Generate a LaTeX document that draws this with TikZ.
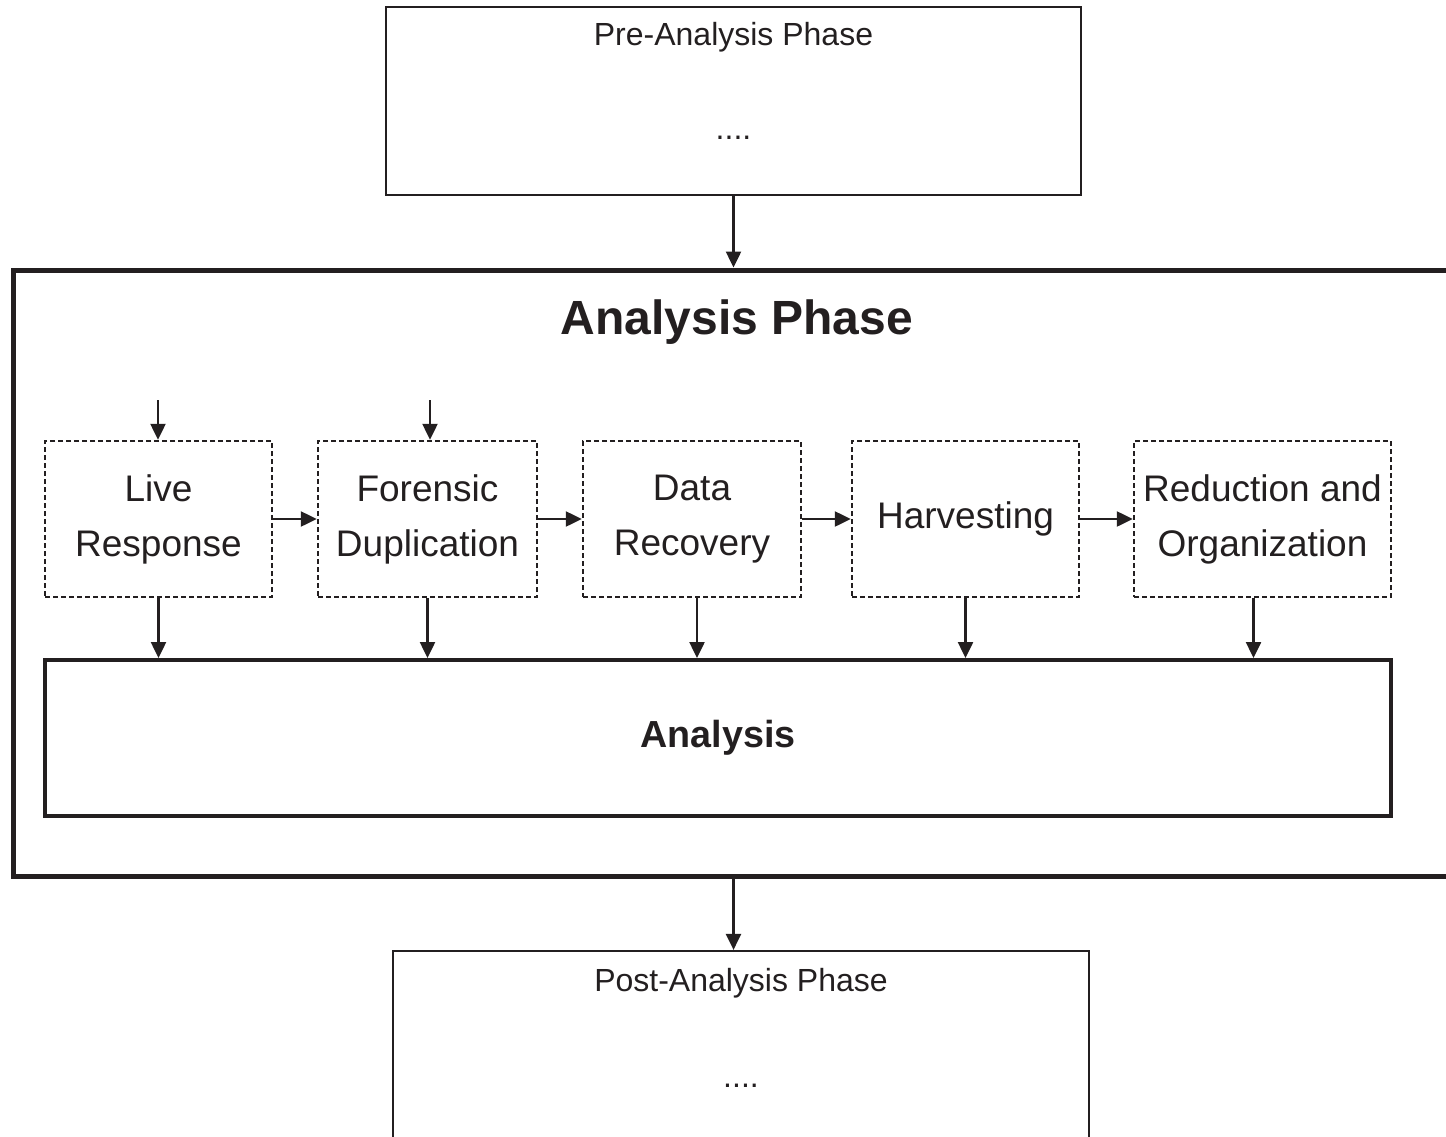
\documentclass[tikz,border=0pt]{standalone}
\usepackage{fontspec}
\setmainfont{Liberation Sans}
\usetikzlibrary{arrows.meta}
\definecolor{ink}{RGB}{35,31,32}
\begin{document}
\begin{tikzpicture}[x=1pt,y=-1pt,
  every node/.style={text=ink},
  phasebox/.style={draw=ink, line width=2.2pt, inner sep=0pt},
  stagebox/.style={draw=ink, line width=2.5pt, dash pattern=on 5pt off 3pt, minimum height=156pt,
    align=center, font=\fontsize{37}{55}\selectfont, inner sep=0pt},
  smalltext/.style={anchor=base, font=\fontsize{32}{32}\selectfont},
  arr/.style={draw=ink, line width=2.5pt, -{Triangle[length=16pt,width=15pt]}},
]
\useasboundingbox (0,0) rectangle (1446,1137);
\clip (0,0) rectangle (1446,1137);

% Pre-analysis phase
\node[phasebox, minimum width=695pt, minimum height=188pt] (pre) at (733.5,101) {};
\node[smalltext] (pretitle) at (733.5,46) {Pre-Analysis Phase};
\node[smalltext] (predots) at (733.5,140) {....};

% Analysis phase container
\node[draw=ink, line width=5pt, minimum width=1447pt, minimum height=606pt, inner sep=0pt] (outer) at (736.5,573) {};
\node[anchor=base, font=\bfseries\fontsize{48}{48}\selectfont] (outertitle) at (737,334) {Analysis Phase};

% Stages
\node[stagebox, minimum width=227pt] (live) at (158.5,519) {Live\\Response};
\node[stagebox, minimum width=219pt] (fore) at (427.5,519) {Forensic\\Duplication};
\node[stagebox, minimum width=218pt] (data) at (692,519) {Data\\Recovery};
\node[stagebox, minimum width=227pt] (harv) at (965.5,519) {Harvesting};
\node[stagebox, minimum width=257pt] (redu) at (1262.5,519) {Reduction and\\Organization};

% Analysis box
\node[draw=ink, line width=4pt, minimum width=1346pt, minimum height=156pt, inner sep=0pt,
  font=\bfseries\fontsize{37.7}{37.7}\selectfont] (ana) at (718,738) {Analysis};

% Post-analysis phase
\node[phasebox, minimum width=696pt, minimum height=249pt] (post) at (741,1075.5) {};
\node[smalltext] (posttitle) at (741,991) {Post-Analysis Phase};
\node[smalltext] (postdots) at (741,1087) {....};

% free ends
\coordinate (inlive) at (158,400);
\coordinate (infore) at (430,400);

% connectors
\draw[arr] (pre.south) -- (pre.south |- outer.north);
\draw[arr] (pre.south |- outer.south) -- (pre.south |- post.north);
\draw[arr] (inlive) -- (inlive |- live.north);
\draw[arr] (infore) -- (infore |- fore.north);
\draw[arr] (live.east) -- (fore.west);
\draw[arr] (fore.east) -- (data.west);
\draw[arr] (data.east) -- (harv.west);
\draw[arr] (harv.east) -- (redu.west);
\draw[arr] (live.south) -- (live.south |- ana.north);
\draw[arr] (fore.south) -- (fore.south |- ana.north);
\draw[arr] ([xshift=5pt]data.south) -- ([xshift=5pt]data.south |- ana.north);
\draw[arr] (harv.south) -- (harv.south |- ana.north);
\draw[arr] ([xshift=-9pt]redu.south) -- ([xshift=-9pt]redu.south |- ana.north);
\end{tikzpicture}
\end{document}
